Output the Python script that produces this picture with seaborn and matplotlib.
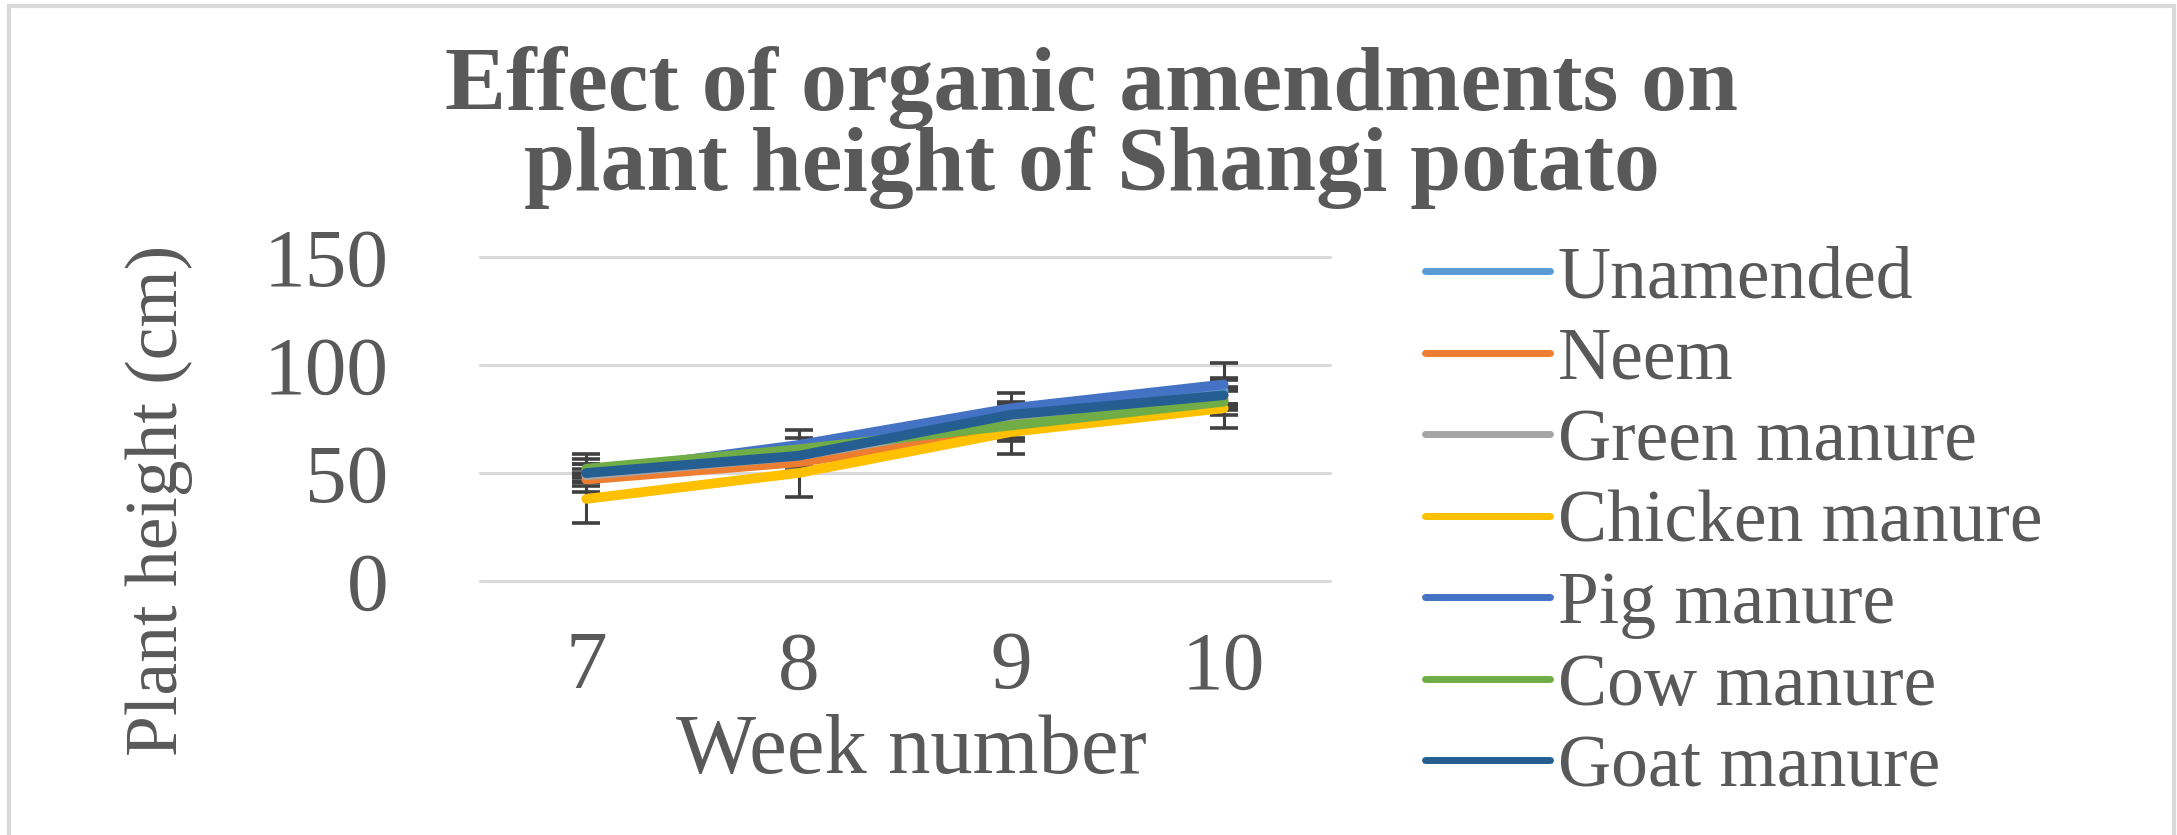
import matplotlib
matplotlib.use("Agg")
import matplotlib.pyplot as plt
from matplotlib.patches import Rectangle
import pandas as pd
import seaborn as sns

# ── Data ────────────────────────────────────────────────────────────────────
weeks = [7, 8, 9, 10]
treatments = ["Unamended", "Neem", "Green manure", "Chicken manure",
              "Pig manure", "Cow manure", "Goat manure"]

unamended = [50, 59, 77, 88]
neem = [47, 55, 70, 84]
green_manure = [49, 58, 75, 86]
chicken_manure = [38, 50, 69, 80]
pig_manure = [50, 63, 80, 91]
cow_manure = [52, 61, 72, 83]
goat_manure = [50, 58, 77, 86]

unamended_err = [4, 4, 5, 6]
neem_err = [3, 4, 5, 4]
green_manure_err = [3, 3, 4, 4]
chicken_manure_err = [11, 11, 10, 9]
pig_manure_err = [9, 7, 7, 10]
cow_manure_err = [4.5, 5, 6, 6]
goat_manure_err = [4, 5, 6, 7]

y_ticks = [0, 50, 100, 150]

colors = ["#5B9BD5", "#ED7D31", "#A5A5A5", "#FFC000",
          "#4472C4", "#70AD47", "#255E91"]

values = [unamended, neem, green_manure, chicken_manure,
          pig_manure, cow_manure, goat_manure]
errors = [unamended_err, neem_err, green_manure_err, chicken_manure_err,
          pig_manure_err, cow_manure_err, goat_manure_err]

rows = []
for name, vals, errs in zip(treatments, values, errors):
    for w, v, e in zip(weeks, vals, errs):
        rows.append({"week": w, "height": v, "err": e, "treatment": name})
df = pd.DataFrame(rows)

# ── Styling ─────────────────────────────────────────────────────────────────
sns.set_theme(style="white")
plt.rcParams["font.family"] = ["Liberation Serif", "DejaVu Serif"]
text_color = "#595959"
grid_color = "#D9D9D9"

fig = plt.figure(figsize=(21.77, 8.35), dpi=100)
ax = fig.add_axes([0.2205, 0.3042, 0.3904, 0.388])

# error bars first, so the lines sit on top of the stems
for name, vals, errs in zip(treatments, values, errors):
    ax.errorbar(weeks, vals, yerr=errs, fmt="none", ecolor="#404040",
                elinewidth=2.2, capsize=10, capthick=2.6, zorder=1.5)

sns.lineplot(data=df, x="week", y="height", hue="treatment",
             hue_order=treatments, palette=colors, linewidth=7,
             solid_capstyle="round", solid_joinstyle="round",
             legend=False, ax=ax, zorder=2)

ax.set_xlim(6.5, 10.5)
ax.set_ylim(0, 150)
ax.set_xticks(weeks)
ax.set_xticklabels([str(w) for w in weeks])
ax.set_yticks(y_ticks)
ax.tick_params(axis="both", length=0, labelsize=60, colors=text_color)
ax.tick_params(axis="y", pad=66)
ax.tick_params(axis="x", pad=36)

ax.grid(axis="y", color=grid_color, linewidth=2.2)
ax.grid(axis="x", visible=False)
for line in ax.get_ygridlines():
    line.set_clip_on(False)
for s in ax.spines.values():
    s.set_visible(False)

ax.set_xlabel("Week number", fontsize=61, color=text_color, va="center")
ax.xaxis.set_label_coords(0.508, -0.53)
ax.set_ylabel("Plant height (cm)", fontsize=53, color=text_color, va="center")
ax.yaxis.set_label_coords(-0.378, 0.25)

fig.suptitle("Effect of organic amendments on\nplant height of Shangi potato",
             x=0.5016, y=0.945, va="top", fontsize=66, fontweight="bold",
             color=text_color, linespacing=0.95)

# legend with Excel-like line handles
handles = [plt.Line2D([], [], color=c, linewidth=5, solid_capstyle="round")
           for c in colors]
fig.legend(handles, treatments, loc="upper left",
           bbox_to_anchor=(1425 / 2177, 0.706), frameon=False,
           fontsize=53, labelcolor=text_color, handlelength=1.7,
           handletextpad=0.1, labelspacing=0.19, borderpad=0,
           borderaxespad=0)

# light chart-area border (left, top, right visible in the crop)
fig.patches.append(Rectangle((9 / 2177, -0.1), 2165 / 2177, 1.1 - 5.5 / 835,
                             transform=fig.transFigure, fill=False,
                             edgecolor=grid_color, linewidth=3))

fig.savefig("out.png", dpi=100, facecolor="white")
plt.close(fig)
